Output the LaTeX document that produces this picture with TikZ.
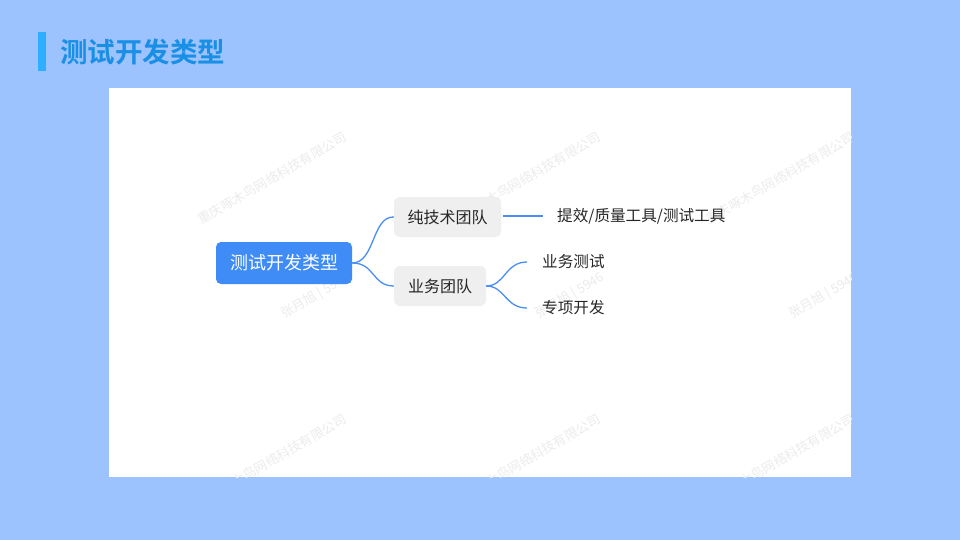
\documentclass[tikz,border=0pt]{standalone}
\usepackage{fontspec}
\setmainfont{Noto Sans CJK SC}
\newfontfamily\cjkb{Noto Sans CJK SC}[BoldFont={* Bold}]
\definecolor{bgblue}{HTML}{9DC3FF}
\definecolor{barblue}{HTML}{2DAEFF}
\definecolor{titleblue}{HTML}{1A8FE6}
\definecolor{rootblue}{HTML}{3F8CF6}
\definecolor{linkblue}{HTML}{4A8EF5}
\definecolor{boxgray}{HTML}{EFEFEF}
\definecolor{txtdark}{HTML}{262626}
\definecolor{wmgray}{HTML}{ECECEC}
\begin{document}
\begin{tikzpicture}[x=1pt,y=-1pt,
  rootbox/.style={fill=rootblue,rounded corners=5pt,text=white,font=\fontsize{18}{20}\selectfont,minimum width=136pt,minimum height=42pt,inner sep=0pt},
  graybox/.style={fill=boxgray,rounded corners=6pt,text=txtdark,font=\fontsize{16}{18}\selectfont,minimum height=40pt,inner sep=0pt},
  leaf/.style={text=txtdark,font=\fontsize{15.6}{18}\selectfont,inner sep=0pt,anchor=west},
  wmark/.style={text=wmgray,font=\fontsize{13}{15}\selectfont,inner sep=0pt,anchor=south west,rotate=30},
  link/.style={draw=linkblue,line width=1.3pt}]
\useasboundingbox (0,0) rectangle (960,540);
\fill[bgblue] (0,0) rectangle (960,540);
\fill[barblue] (38,32) rectangle (46,71);
\node[anchor=west,text=titleblue,font=\cjkb\bfseries\fontsize{27.5}{30}\selectfont,inner sep=0pt] (title) at (60,52) {测试开发类型};
\fill[white] (109,88) rectangle (851,477);
\begin{scope}
\clip (109,88) rectangle (851,477);
\foreach \i/\xx in {1/202,2/456,3/710} {
  \node[wmark] (wa\i) at (\xx,226) {重庆啄木鸟网络科技有限公司};
  \node[wmark] (wb\i) at (\xx,508) {重庆啄木鸟网络科技有限公司};
  \node[wmark] (wc\i) at (\xx+84,322) {张月旭 | 5946};
}
\end{scope}
\node[rootbox] (root) at (284,263) {测试开发类型};
\node[graybox,minimum width=107pt] (tech) at (447.5,217) {纯技术团队};
\node[graybox,minimum width=92pt] (biz) at (440,286) {业务团队};
\coordinate (t1a) at (503,216);
\coordinate (t1b) at (543,216);
\node[leaf] (leaf1) at (557,216) {提效/质量工具/测试工具};
\coordinate (b1) at (527,262);
\coordinate (b2) at (527,308);
\node[leaf] (leaf2) at (542,262) {业务测试};
\node[leaf] (leaf3) at (542,308) {专项开发};
\draw[link] (root.east) .. controls (375,263) and (372,216) .. (tech.west);
\draw[link] (root.east) .. controls (375,263) and (372,286) .. (biz.west);
\draw[link] (t1a) -- (t1b);
\draw[link] (biz.east) .. controls (505,286) and (505,262) .. (b1);
\draw[link] (biz.east) .. controls (505,286) and (505,308) .. (b2);
\end{tikzpicture}
\end{document}
